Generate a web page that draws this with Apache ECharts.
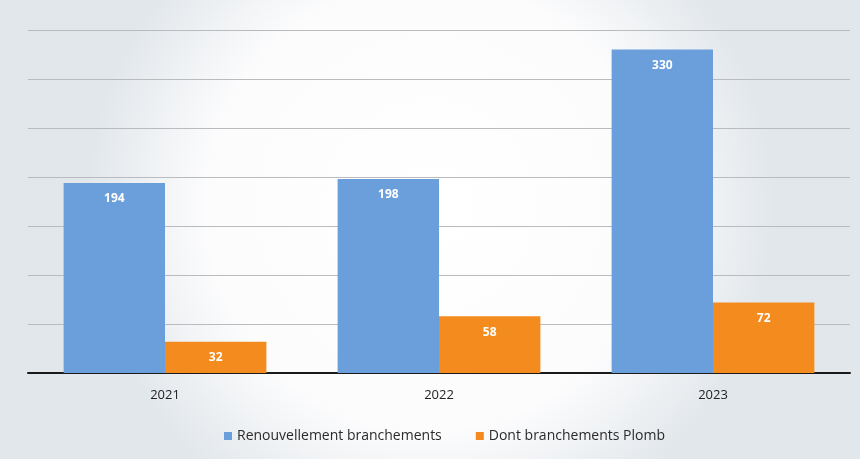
<!DOCTYPE html>
<html>
<head>
<meta charset="utf-8">
<style>
  html, body { margin: 0; padding: 0; }
  #chart { width: 860px; height: 459px; }
</style>
<script src="https://cdn.jsdelivr.net/npm/echarts@6/dist/echarts.min.js"></script>
</head>
<body>
<div id="chart"></div>
<script>
const years = ['2021', '2022', '2023']
const renouvellement = [194, 198, 330]
const plomb = [32, 58, 72]
const seriesNames = ['Renouvellement branchements', 'Dont branchements Plomb']
const colors = ['#6b9fdc', '#f48b1e']

const chart = echarts.init(document.getElementById('chart'))

chart.setOption({
  backgroundColor: {
    type: 'radial',
    x: 0.5, y: 0.45, r: 0.75,
    colorStops: [
      { offset: 0, color: '#ffffff' },
      { offset: 0.65, color: '#fcfcfd' },
      { offset: 1, color: '#e2e7eb' }
    ]
  },
  color: colors,
  textStyle: { fontFamily: 'Open Sans, Noto Sans, sans-serif' },
  legend: {
    bottom: 11,
    left: 219,
    itemWidth: 8,
    itemHeight: 8,
    itemGap: 34,
    icon: 'rect',
    textStyle: { fontSize: 14, color: '#2a2a2a' },
    data: seriesNames
  },
  grid: {
    top: 30,
    left: 28,
    right: 10,
    bottom: 86
  },
  xAxis: {
    type: 'category',
    data: years,
    axisTick: { show: false },
    axisLine: { lineStyle: { color: '#1a1a1a', width: 2 } },
    axisLabel: { fontSize: 13, color: '#222', margin: 16 }
  },
  yAxis: {
    type: 'value',
    min: 0,
    max: 350,
    interval: 50,
    axisLabel: { show: false },
    axisLine: { show: false },
    axisTick: { show: false },
    splitLine: { lineStyle: { color: '#b9bcbf', width: 1 } }
  },
  series: [
    {
      name: seriesNames[0],
      type: 'bar',
      data: renouvellement,
      barWidth: '37%',
      barGap: '0%',
      label: {
        show: true,
        position: 'insideTop',
        distance: 10,
        color: '#fff',
        fontWeight: 'bold',
        fontSize: 12
      }
    },
    {
      name: seriesNames[1],
      type: 'bar',
      data: plomb,
      barWidth: '37%',
      label: {
        show: true,
        position: 'insideTop',
        distance: 10,
        color: '#fff',
        fontWeight: 'bold',
        fontSize: 12
      }
    }
  ]
})
</script>
</body>
</html>
